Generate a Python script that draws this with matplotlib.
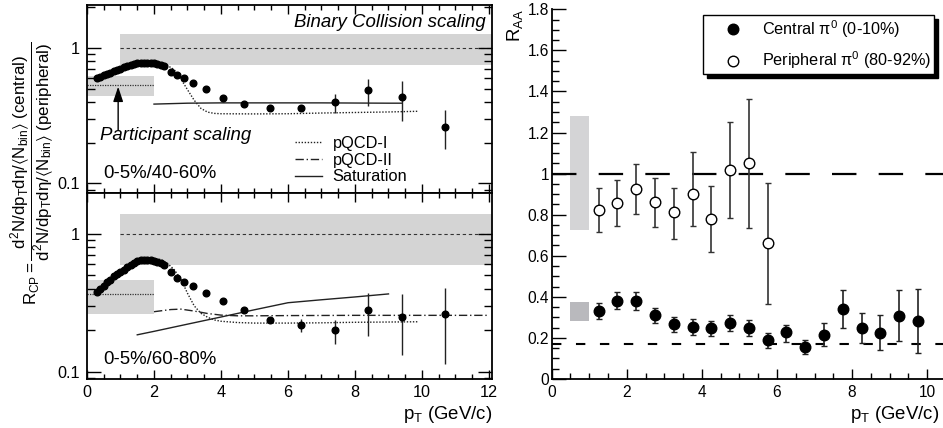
import numpy as np
import matplotlib
matplotlib.use("Agg")
import matplotlib.pyplot as plt
from matplotlib.ticker import FixedLocator, MultipleLocator, NullFormatter, FuncFormatter, LogLocator
from matplotlib.lines import Line2D
from matplotlib.patches import Rectangle

plt.rcParams['font.family'] = ['Liberation Sans', 'DejaVu Sans']
plt.rcParams['mathtext.fontset'] = 'custom'
plt.rcParams['mathtext.rm'] = 'Liberation Sans'
plt.rcParams['mathtext.it'] = 'Liberation Sans:italic'
plt.rcParams['mathtext.default'] = 'regular'

# ---------------- data: left top (0-5%/40-60%) ----------------
top_pt = [0.3, 0.4, 0.5, 0.6, 0.7, 0.8, 0.9, 1.0, 1.1, 1.2, 1.3, 1.4, 1.5, 1.6, 1.7, 1.8, 1.9, 2.0, 2.1, 2.2, 2.3,
          2.5, 2.7, 2.9, 3.15, 3.55, 4.05, 4.7, 5.45, 6.4, 7.4, 8.4, 9.4, 10.7]
top_rcp = [0.594, 0.61, 0.625, 0.64, 0.655, 0.67, 0.685, 0.70, 0.715, 0.73, 0.745, 0.757, 0.767, 0.774, 0.777, 0.777,
           0.775, 0.77, 0.762, 0.75, 0.735, 0.665, 0.629, 0.594, 0.552, 0.494, 0.428, 0.382, 0.361, 0.357,
           0.396, 0.488, 0.431, 0.261]
top_err_pt = [7.4, 8.4, 9.4, 10.7]
top_err_lo = [0.331, 0.372, 0.289, 0.179]
top_err_hi = [0.453, 0.588, 0.565, 0.347]

top_pqcd1_pt = [2.2, 2.4, 2.6, 2.8, 3.0, 3.2, 3.4, 3.6, 3.8, 4.0, 5.0, 6.0, 7.0, 8.0, 9.0, 9.9]
top_pqcd1 = [0.76, 0.74, 0.69, 0.59, 0.49, 0.41, 0.357, 0.335, 0.328, 0.326, 0.325, 0.326, 0.33, 0.333, 0.336, 0.34]
top_sat_pt = [2.0, 3.0, 4.0, 5.0, 6.0, 7.0, 8.0, 9.0, 9.4]
top_sat = [0.384, 0.39, 0.392, 0.392, 0.392, 0.392, 0.391, 0.39, 0.39]

top_binary_band = (1.0, 0.75, 1.26)      # x start, low, high
top_part_band = (0.443, 0.53, 0.615)     # low, centre, high

# ---------------- data: left bottom (0-5%/60-80%) ----------------
bot_pt = [0.3, 0.4, 0.5, 0.6, 0.7, 0.8, 0.9, 1.0, 1.1, 1.2, 1.3, 1.4, 1.5, 1.6, 1.7, 1.8, 1.9, 2.0, 2.1, 2.2, 2.3,
          2.5, 2.7, 2.9, 3.15, 3.55, 4.05, 4.7, 5.45, 6.4, 7.4, 8.4, 9.4, 10.7]
bot_rcp = [0.38, 0.40, 0.42, 0.445, 0.465, 0.49, 0.51, 0.53, 0.55, 0.57, 0.59, 0.61, 0.63, 0.643, 0.647, 0.645,
           0.64, 0.635, 0.625, 0.61, 0.59, 0.531, 0.48, 0.449, 0.42, 0.37, 0.324, 0.279, 0.237, 0.219, 0.20,
           0.28, 0.25, 0.262]
bot_err_pt = [5.45, 6.4, 7.4, 8.4, 9.4, 10.7]
bot_err_lo = [0.225, 0.195, 0.16, 0.181, 0.132, 0.114]
bot_err_hi = [0.25, 0.241, 0.237, 0.374, 0.366, 0.406]

bot_pqcd1_pt = [1.6, 1.8, 2.0, 2.2, 2.4, 2.6, 2.8, 3.0, 3.2, 3.4, 3.6, 3.8, 4.0, 4.5, 5.0, 6.0, 7.0, 8.0, 9.0, 9.9]
bot_pqcd1 = [0.645, 0.655, 0.66, 0.65, 0.61, 0.55, 0.47, 0.37, 0.30, 0.265, 0.248, 0.237, 0.232, 0.227, 0.225,
             0.225, 0.226, 0.228, 0.229, 0.23]
bot_pqcd2_pt = [2.0, 2.5, 2.8, 3.2, 3.6, 4.0, 4.5, 5.0, 6.0, 8.0, 10.0, 12.0]
bot_pqcd2 = [0.272, 0.282, 0.284, 0.275, 0.264, 0.257, 0.254, 0.254, 0.255, 0.256, 0.256, 0.256]
bot_sat_pt = [1.5, 2.0, 3.0, 4.0, 5.0, 6.0, 7.0, 8.0, 9.0]
bot_sat = [0.185, 0.196, 0.221, 0.249, 0.281, 0.316, 0.332, 0.348, 0.366]

bot_binary_band = (1.0, 0.596, 1.39)
bot_part_band = (0.263, 0.366, 0.462)

# ---------------- data: right panel R_AA ----------------
raa_pt = [1.25, 1.75, 2.25, 2.75, 3.25, 3.75, 4.25, 4.75, 5.25, 5.75, 6.25, 6.75, 7.25, 7.75, 8.25, 8.75, 9.25, 9.75]
raa_central = [0.331, 0.381, 0.381, 0.312, 0.266, 0.255, 0.248, 0.274, 0.25, 0.19, 0.227, 0.157, 0.216, 0.339,
               0.247, 0.225, 0.307, 0.282]
raa_central_hi = [0.369, 0.425, 0.425, 0.347, 0.303, 0.293, 0.282, 0.312, 0.285, 0.222, 0.264, 0.19, 0.271, 0.433,
                  0.32, 0.31, 0.433, 0.437]
raa_central_lo = [0.292, 0.339, 0.337, 0.271, 0.227, 0.215, 0.211, 0.234, 0.21, 0.152, 0.182, 0.12, 0.161, 0.247,
                  0.174, 0.14, 0.184, 0.128]
per_pt = [1.25, 1.75, 2.25, 2.75, 3.25, 3.75, 4.25, 4.75, 5.25, 5.75]
raa_periph = [0.823, 0.858, 0.925, 0.86, 0.812, 0.901, 0.779, 1.018, 1.05, 0.661]
raa_periph_hi = [0.928, 0.967, 1.048, 0.977, 0.931, 1.104, 0.94, 1.251, 1.363, 0.954]
raa_periph_lo = [0.714, 0.745, 0.802, 0.741, 0.68, 0.745, 0.62, 0.785, 0.735, 0.365]
periph_box = (0.5, 1.0, 0.727, 1.28)
central_box = (0.5, 1.0, 0.284, 0.375)
ncoll_level = 1.0
npart_level = 0.17

W, H = 943, 428
fig = plt.figure(figsize=(W / 100, H / 100), dpi=100)

def fr(x0, y0, x1, y1):
    return [x0 / W, 1 - y1 / H, (x1 - x0) / W, (y1 - y0) / H]

ax_t = fig.add_axes(fr(87, 5, 492, 193))
ax_b = fig.add_axes(fr(87, 193, 492, 379))
ax_r = fig.add_axes(fr(551.7, 9.3, 943, 379))

band_col = '#d4d4d4'

def style_left(ax, ylim, show_x):
    ax.set_yscale('log')
    ax.set_xlim(0, 12.09)
    ax.set_ylim(*ylim)
    ax.yaxis.set_major_locator(FixedLocator([0.1, 1.0]))
    ax.yaxis.set_major_formatter(FuncFormatter(lambda v, p: '%g' % v))
    ax.yaxis.set_minor_locator(LogLocator(base=10, subs=np.arange(2, 10)))
    ax.yaxis.set_minor_formatter(NullFormatter())
    ax.xaxis.set_major_locator(MultipleLocator(2))
    ax.xaxis.set_minor_locator(MultipleLocator(0.5))
    ax.tick_params(which='both', direction='in', top=True, right=True, labelsize=11.7, width=1.0)
    ax.tick_params(axis='y', which='major', length=10, pad=5)
    ax.tick_params(axis='y', which='minor', length=5.5)
    ax.tick_params(axis='x', which='major', length=6.5, pad=4)
    ax.tick_params(axis='x', which='minor', length=3.5)
    if not show_x:
        ax.tick_params(axis='x', labelbottom=False)
    for s in ax.spines.values():
        s.set_linewidth(1.3)

def bands(ax, binary, part):
    x0, lo, hi = binary
    ax.axhspan(lo, hi, xmin=x0 / 12.09, xmax=1, color=band_col, lw=0, zorder=0)
    ax.plot([x0, 12.09], [1, 1], ls=(0, (3, 2.5)), color='#333333', lw=0.8, zorder=1)
    plo, pc, phi = part
    ax.axhspan(plo, phi, xmin=0, xmax=2 / 12.09, color=band_col, lw=0, zorder=0)
    ax.plot([0, 2], [pc, pc], ls=(0, (1, 1)), color='#333333', lw=0.9, zorder=1)

# top panel
style_left(ax_t, (0.0849, 2.065), False)
bands(ax_t, top_binary_band, top_part_band)
ax_t.plot(top_pqcd1_pt, top_pqcd1, ls=(0, (1, 1.2)), color='#222222', lw=1.0, zorder=2)
ax_t.plot(top_sat_pt, top_sat, ls='-', color='#222222', lw=1.0, zorder=2)
ax_t.vlines(top_err_pt, top_err_lo, top_err_hi, color='#222222', lw=1.0, zorder=3)
ax_t.plot(top_pt, top_rcp, 'o', color='black', ms=4.8, mec='black', zorder=4)
ax_t.annotate('', xy=(0.93, 0.516), xytext=(0.93, 0.247),
              arrowprops=dict(arrowstyle='-|>,head_length=0.9,head_width=0.3', color='black', lw=1.0,
                              shrinkA=0, shrinkB=0))
ax_t.text(0.985, 0.905, 'Binary Collision scaling', transform=ax_t.transAxes, ha='right', va='center',
          style='italic', fontsize=13.4)
ax_t.text(0.39, 0.227, 'Participant scaling', ha='left', va='center', style='italic', fontsize=13.4)
ax_t.text(0.5, 0.119, '0-5%/40-60%', ha='left', va='center', fontsize=13.4)

leg_handles = [Line2D([], [], ls=(0, (1, 1.2)), color='#222222', lw=1.0),
               Line2D([], [], ls=(0, (6, 2, 1, 2)), color='#222222', lw=1.0),
               Line2D([], [], ls='-', color='#222222', lw=1.0)]
ax_t.legend(leg_handles, ['pQCD-I', 'pQCD-II', 'Saturation'], loc='upper left',
            bbox_to_anchor=(295 / W, 1 - 136 / H), bbox_transform=fig.transFigure,
            frameon=False, fontsize=11.8, handlelength=1.63, handletextpad=0.67, labelspacing=0.1,
            borderpad=0, borderaxespad=0)

# bottom panel
style_left(ax_b, (0.0885, 1.972), True)
bands(ax_b, bot_binary_band, bot_part_band)
ax_b.plot(bot_pqcd1_pt, bot_pqcd1, ls=(0, (1, 1.2)), color='#222222', lw=1.0, zorder=2)
ax_b.plot(bot_pqcd2_pt, bot_pqcd2, ls=(0, (6, 2, 1, 2)), color='#222222', lw=1.0, zorder=2)
ax_b.plot(bot_sat_pt, bot_sat, ls='-', color='#222222', lw=1.0, zorder=2)
ax_b.vlines(bot_err_pt, bot_err_lo, bot_err_hi, color='#222222', lw=1.0, zorder=3)
ax_b.plot(bot_pt, bot_rcp, 'o', color='black', ms=4.8, mec='black', zorder=4)
ax_b.text(0.5, 0.123, '0-5%/60-80%', ha='left', va='center', fontsize=13.4)
ax_b.set_xlabel(r'$p_T$ (GeV/c)', fontsize=13.4, ha='right', x=1.0, labelpad=3)

fig.text(32 / W, 1 - 173 / H,
         r'$R_{CP} = \dfrac{d^2N/dp_{T}d\eta/\langle N_{bin}\rangle\ (central)}'
         r'{d^2N/dp_{T}d\eta/\langle N_{bin}\rangle\ (peripheral)}$',
         rotation=90, ha='center', va='center', fontsize=12.2)

# right panel
ax_r.set_xlim(0, 10.42)
ax_r.set_ylim(0, 1.8)
ax_r.spines['top'].set_visible(False)
ax_r.spines['right'].set_visible(False)
for s in ('left', 'bottom'):
    ax_r.spines[s].set_linewidth(1.3)
ax_r.xaxis.set_major_locator(MultipleLocator(2))
ax_r.xaxis.set_minor_locator(MultipleLocator(0.5))
ax_r.yaxis.set_major_locator(MultipleLocator(0.2))
ax_r.yaxis.set_minor_locator(MultipleLocator(0.05))
ax_r.yaxis.set_major_formatter(FuncFormatter(lambda v, p: '%g' % round(v, 2)))
ax_r.tick_params(which='both', direction='in', labelsize=11.2, width=1.0)
ax_r.tick_params(axis='y', which='major', length=10, pad=2)
ax_r.tick_params(axis='y', which='minor', length=5)
ax_r.tick_params(axis='x', which='major', length=7, pad=4)
ax_r.tick_params(axis='x', which='minor', length=4)

bx0, bx1, blo, bhi = periph_box
ax_r.add_patch(Rectangle((bx0, blo), bx1 - bx0, bhi - blo, color='#d4d4d6', lw=0, zorder=1))
bx0, bx1, blo, bhi = central_box
ax_r.add_patch(Rectangle((bx0, blo), bx1 - bx0, bhi - blo, color='#b9b9bd', lw=0, zorder=1))
ax_r.axhline(ncoll_level, color='black', lw=1.6, dashes=(11, 10), zorder=2)
ax_r.axhline(npart_level, color='black', lw=1.5, dashes=(4.5, 7), zorder=2)

c = np.array(raa_central)
ax_r.errorbar(raa_pt, c, yerr=[c - np.array(raa_central_lo), np.array(raa_central_hi) - c], fmt='o',
              color='#222222', mfc='black', mec='black', ms=7.6, elinewidth=1.2, capsize=2.2, capthick=1.0,
              zorder=4)
p = np.array(raa_periph)
ax_r.errorbar(per_pt, p, yerr=[p - np.array(raa_periph_lo), np.array(raa_periph_hi) - p], fmt='o',
              color='#333333', mfc='white', mec='black', mew=1.0, ms=7.6, elinewidth=1.2, capsize=2.2,
              capthick=1.0, zorder=4)

lh = [Line2D([], [], marker='o', ls='none', mfc='black', mec='black', ms=7.6),
      Line2D([], [], marker='o', ls='none', mfc='white', mec='black', ms=7.6)]
labels = [r'Central $\pi^0$ (0-10%)', r'Peripheral $\pi^0$ (80-92%)$\ \ \ $']
leg = ax_r.legend(lh, labels, loc='upper left', bbox_to_anchor=(703 / W, 1 - 15 / H),
                  bbox_transform=fig.transFigure,
                  frameon=True, fancybox=False, edgecolor='black', fontsize=11.7, borderpad=0.18,
                  labelspacing=0.62, handlelength=3.3, handletextpad=0.15, borderaxespad=0,
                  shadow={'ox': 3, 'oy': -3, 'facecolor': 'black', 'edgecolor': 'black', 'alpha': 1})
leg.get_frame().set_linewidth(1.0)

ax_r.set_xlabel(r'$p_T$ (GeV/c)', fontsize=13.4, ha='right', x=0.99, labelpad=3)
ax_r.set_ylabel(r'$R_{AA}$', fontsize=13.4, ha='right', y=1.0, labelpad=2)

fig.savefig('out.png', dpi=100)
